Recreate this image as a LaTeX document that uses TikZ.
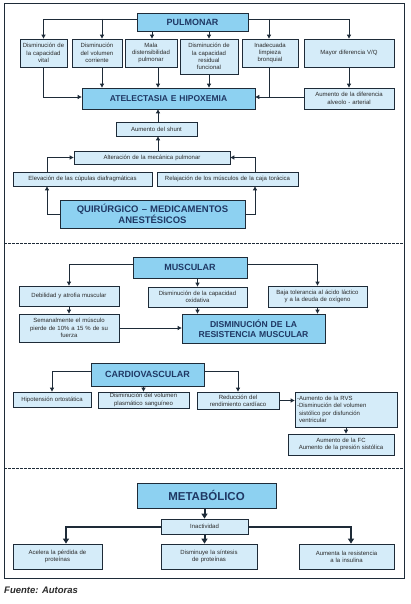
\documentclass[tikz,border=0pt]{standalone}
\usepackage{fontspec}
\setmainfont{Liberation Sans}
\usetikzlibrary{arrows.meta}
\definecolor{linec}{HTML}{1E2B38}
\definecolor{ttlc}{HTML}{1F3864}
\definecolor{tfillc}{HTML}{8DD1F1}
\definecolor{sfillc}{HTML}{D5ECF9}
\definecolor{txtc}{HTML}{2A2A2A}
\tikzset{
 sbox/.style={draw=linec, fill=sfillc, line width=0.8pt, inner sep=0pt, align=center, font=\fontsize{6}{7.3}\selectfont, text=txtc},
 tbox/.style={draw=linec, fill=tfillc, line width=0.8pt, inner sep=0pt, align=center, font=\bfseries\fontsize{9}{10.5}\selectfont, text=ttlc},
 conn/.style={draw=linec, line width=0.9pt},
 arr/.style={conn, -{Triangle[width=4pt,length=4pt]}},
 barr/.style={draw=linec, line width=2pt, -{Triangle[width=6pt,length=5pt]}},
 sepline/.style={draw=linec, line width=0.6pt, dash pattern=on 2.5pt off 1.5pt}
}
\newcommand\mybox[7]{%
 \pgfmathsetmacro\bxcx{(#3+#5)/2}%
 \pgfmathsetmacro\bxcy{(#4+#6)/2}%
 \pgfmathsetmacro\bxw{#5-#3}%
 \pgfmathsetmacro\bxh{#6-#4}%
 \pgfmathsetmacro\bxtw{#5-#3-4}%
 \node[#2, minimum width=\bxw pt, minimum height=\bxh pt, text width=\bxtw pt] (#1) at (\bxcx,\bxcy) {#7};}
\begin{document}
\begin{tikzpicture}[x=1pt,y=-1pt]
\useasboundingbox (0,0) rectangle (411,604);
\fill[white] (0,0) rectangle (411,604);
% frame and separators
\draw[linec, line width=1pt] (4,4) rectangle (404,578);
\draw[sepline] (4,243) -- (404,243);
\draw[sepline] (4,468) -- (404,468);
% ---------------- PULMONAR
\mybox{pul}{tbox}{137}{13}{248}{31}{PULMONAR}
\mybox{b1}{sbox}{20}{39}{67}{67}{Disminución de\\la capacidad\\vital}
\mybox{b2}{sbox}{72}{39}{122}{67}{Disminución\\del volumen\\corriente}
\mybox{b3}{sbox}{125}{39}{177}{67}{Mala\\distensibilidad\\pulmonar}
\mybox{b4}{sbox}{180}{39}{238}{74}{Disminución de\\la capacidad\\residual\\funcional}
\mybox{b5}{sbox}{242}{39}{298}{67}{Inadecuada\\limpieza\\bronquial}
\mybox{b6}{sbox}{304}{39}{394}{67}{Mayor diferencia V/Q}
\mybox{at}{tbox, font=\bfseries\fontsize{8.5}{10}\selectfont}{82}{88}{255}{109}{ATELECTASIA E HIPOXEMIA}
\mybox{ad}{sbox}{304}{88}{394}{109}{Aumento de la diferencia\\alveolo - arterial}
\mybox{sh}{sbox}{116}{122}{197}{136}{Aumento del shunt}
\mybox{alt}{sbox}{74}{151}{230}{164}{Alteración de la mecánica pulmonar}
\mybox{el}{sbox}{13}{172}{152}{186}{Elevación de las cúpulas diafragmáticas}
\mybox{rel}{sbox}{157}{172}{298}{186}{Relajación de los músculos de la caja torácica}
\mybox{qui}{tbox, font=\bfseries\fontsize{9.5}{11}\selectfont}{60}{200}{245}{228}{QUIRÚRGICO – MEDICAMENTOS\\ANESTÉSICOS}
\coordinate (hy) at (0,19);
\coordinate (hy2) at (0,97);
\coordinate (x2) at (102,0);
\coordinate (x3) at (152,0);
\coordinate (x3b) at (158,0);
\coordinate (x4) at (209,0);
\coordinate (x5) at (269,0);
\coordinate (xe) at (47,0);
\coordinate (xr) at (255,0);
\draw[arr] (pul.west |- hy) -| (b1.north);
\draw[arr] (pul.east |- hy) -| (b6.north);
\draw[arr] (x2 |- hy) -- (x2 |- b2.north);
\draw[arr] (x3 |- pul.south) -- (x3 |- b3.north);
\draw[arr] (x4 |- pul.south) -- (x4 |- b4.north);
\draw[arr] (x5 |- hy) -- (x5 |- b5.north);
\draw[arr] (b1.south) |- (at.west |- hy2);
\draw[arr] (x2 |- b2.south) -- (x2 |- at.north);
\draw[arr] (x3b |- b3.south) -- (x3b |- at.north);
\draw[arr] (x4 |- b4.south) -- (x4 |- at.north);
\draw[arr] (ad.west |- hy2) -- (at.east |- hy2);
\draw[conn] (x5 |- b5.south) -- (x5 |- hy2);
\draw[arr] (b6.south) -- (ad.north);
\draw[arr] (x3b |- sh.north) -- (x3b |- at.south);
\draw[arr] (x3b |- alt.north) -- (x3b |- sh.south);
\draw[arr] (xe |- el.north) |- (alt.west);
\draw[arr] (xr |- rel.north) |- (alt.east);
\draw[arr] (qui.west) -| (xe |- el.south);
\draw[arr] (qui.east) -| (xr |- rel.south);
% ---------------- MUSCULAR
\mybox{mus}{tbox}{133}{257}{247}{278}{MUSCULAR}
\mybox{deb}{sbox}{19}{286}{119}{306}{Debilidad y atrofia muscular}
\mybox{ox}{sbox}{148}{287}{247}{307}{Disminución de la capacidad\\oxidativa}
\mybox{baja}{sbox}{268}{286}{367}{307}{Baja tolerancia al ácido láctico\\y a la deuda de oxígeno}
\mybox{sem}{sbox}{19}{314}{119}{342}{Semanalmente el músculo\\pierde de 10\% a 15 \% de su\\fuerza}
\mybox{dres}{tbox, font=\bfseries\fontsize{8.6}{10.5}\selectfont}{182}{314}{325}{343}{DISMINUCIÓN DE LA\\RESISTENCIA MUSCULAR}
\coordinate (hy5) at (0,264);
\draw[arr] (mus.west |- hy5) -| (deb.north);
\draw[arr] (mus.east |- hy5) -| (baja.north);
\draw[arr] (mus.south -| ox.north) -- (ox.north);
\draw[arr] (deb.south) -- (sem.north);
\draw[arr] (sem.east) -- (sem.east -| dres.west);
\draw[arr] (ox.south) -- (ox.south |- dres.north);
\draw[arr] (baja.south) -- (baja.south |- dres.north);
% ---------------- CARDIOVASCULAR
\mybox{car}{tbox}{91}{363}{204}{386}{CARDIOVASCULAR}
\mybox{hip}{sbox}{13}{392}{91}{407}{Hipotensión ortostática}
\mybox{vol}{sbox}{98}{392}{189}{408}{Disminución del volumen\\plasmático sanguíneo}
\mybox{red}{sbox}{197}{392}{279}{409}{Reducción del\\rendimiento cardíaco}
\mybox{rvs}{sbox, align=left}{295}{392}{397}{427}{-Aumento de la RVS\\-Disminución del volumen\\\hspace*{2pt}sistólico por disfunción\\\hspace*{2pt}ventricular}
\mybox{fc}{sbox}{288}{434}{394}{455}{Aumento de la FC\\Aumento de la presión sistólica}
\coordinate (hy6) at (0,371);
\draw[arr] (car.west |- hy6) -| (hip.north);
\draw[arr] (car.east |- hy6) -| (red.north);
\draw[arr] (car.south -| vol.north) -- (vol.north);
\draw[arr] (red.east) -- (red.east -| rvs.west);
\draw[arr] (rvs.south) -- (rvs.south |- fc.north);
% ---------------- METABOLICO
\mybox{met}{tbox, font=\bfseries\fontsize{11.5}{13}\selectfont}{137}{483}{276}{508}{METABÓLICO}
\mybox{ina}{sbox}{161}{519}{248}{534}{Inactividad}
\mybox{ace}{sbox}{13}{544}{102}{569}{Acelera la pérdida de\\proteínas}
\mybox{dis}{sbox}{161}{544}{257}{569}{Disminuye la síntesis\\de proteínas}
\mybox{aum}{sbox}{299}{544}{394}{569}{Aumenta la resistencia\\a la insulina}
\coordinate (xa) at (66,0);
\coordinate (xb) at (351,0);
\draw[barr] (ina.north |- met.south) -- (ina.north);
\draw[barr] (ina.west) -| (xa |- ace.north);
\draw[barr] (ina.east) -| (xb |- aum.north);
\draw[barr] (ina.south) -- (ina.south |- dis.north);
% source
\node[anchor=west, inner sep=0pt, font=\bfseries\itshape\fontsize{9.5}{11}\selectfont, text=txtc] (src) at (4,590) {Fuente: Autoras};
\end{tikzpicture}
\end{document}
